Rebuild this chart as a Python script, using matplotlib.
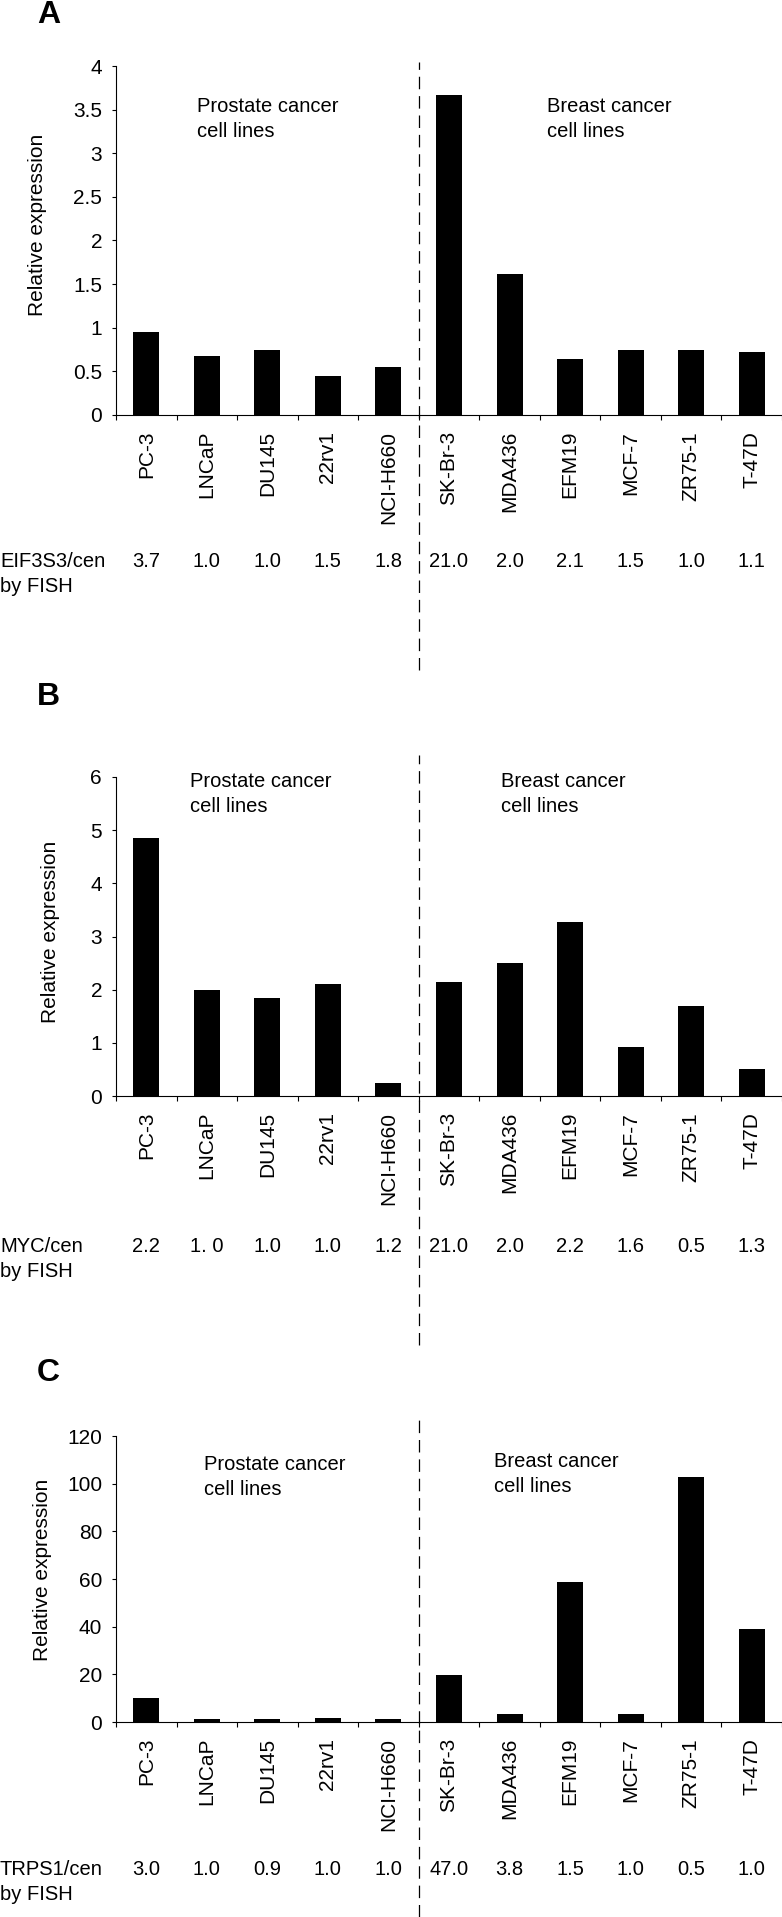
import matplotlib
matplotlib.use("Agg")
import matplotlib.pyplot as plt
import matplotlib.transforms as mtransforms
import numpy as np

# figure size in pixels
W, H = 782, 1917

plt.rcParams['font.family'] = ['Liberation Sans', 'DejaVu Sans']

cell_lines = ["PC-3", "LNCaP", "DU145", "22rv1", "NCI-H660",
              "SK-Br-3", "MDA436", "EFM19", "MCF-7", "ZR75-1", "T-47D"]

# relative expression
expr_eif3s3 = [0.95, 0.68, 0.75, 0.45, 0.55, 3.67, 1.62, 0.64, 0.74, 0.74, 0.72]
expr_myc = [4.86, 2.00, 1.84, 2.10, 0.25, 2.15, 2.51, 3.28, 0.93, 1.70, 0.51]
expr_trps1 = [10.0, 1.3, 1.2, 1.8, 1.3, 19.7, 3.3, 58.8, 3.3, 102.7, 39.1]

# gene/cen ratio by FISH (printed under each column)
fish_eif3s3 = ["3.7", "1.0", "1.0", "1.5", "1.8", "21.0", "2.0", "2.1", "1.5", "1.0", "1.1"]
fish_myc = ["2.2", "1. 0", "1.0", "1.0", "1.2", "21.0", "2.0", "2.2", "1.6", "0.5", "1.3"]
fish_trps1 = ["3.0", "1.0", "0.9", "1.0", "1.0", "47.0", "3.8", "1.5", "1.0", "0.5", "1.0"]

yticks_a = [0, 0.5, 1, 1.5, 2, 2.5, 3, 3.5, 4]
yticks_b = [0, 1, 2, 3, 4, 5, 6]
yticks_c = [0, 20, 40, 60, 80, 100, 120]


def fx(x):
    return x / W


def fy(y):
    return 1 - y / H


fig = plt.figure(figsize=(W / 100, H / 100), dpi=100)


def draw_panel(letter, letter_base, values, yticks, top_px, bot_px,
               dash_top, dash_bot, txt_left, txt_base, breast_left, breast_base,
               probe, fish, fish_base, ylab_pos):
    ax = fig.add_axes([fx(116), fy(bot_px), fx(782 - 116), (bot_px - top_px) / H])
    x = np.arange(len(values))
    ax.bar(x, values, width=0.43, color="black", edgecolor="none")
    ax.set_xlim(-0.5, len(values) - 0.5)
    ax.set_ylim(0, yticks[-1])
    ax.set_yticks(yticks)
    ax.set_yticklabels([("%g" % t) for t in yticks])
    ax.spines["top"].set_visible(False)
    ax.spines["right"].set_visible(False)
    ax.spines["left"].set_linewidth(0.8)
    ax.spines["bottom"].set_linewidth(0.8)
    ax.tick_params(axis="y", direction="out", length=3, width=0.8, pad=7, labelsize=15)
    # boundary ticks on x, labels at the bar centres
    ax.set_xticks(np.arange(-0.5, len(values)))
    ax.set_xticklabels([])
    ax.tick_params(axis="x", which="major", direction="out", length=3.6, width=0.8)
    ax.set_xticks(x, minor=True)
    ax.set_xticklabels(cell_lines, minor=True, rotation=90)
    ax.tick_params(axis="x", which="minor", length=0, pad=11.5, labelsize=15)

    # dashed separator running through the panel
    h = bot_px - top_px
    ax.axvline(4.5, ymin=(bot_px - dash_bot) / h, ymax=(bot_px - dash_top) / h,
               color="black", lw=0.9, dashes=(10, 5.5), clip_on=False)

    fig.text(fx(37), fy(letter_base), letter, fontsize=23, fontweight="bold",
             va="baseline", ha="left")
    fig.text(fx(ylab_pos[0]), fy(ylab_pos[1]), "Relative expression", rotation=90,
             fontsize=15, ha="center", va="center")
    fig.text(fx(txt_left), fy(txt_base), "Prostate cancer", fontsize=14.5, va="baseline")
    fig.text(fx(txt_left), fy(txt_base + 25), "cell lines", fontsize=14.5, va="baseline")
    fig.text(fx(breast_left), fy(breast_base), "Breast cancer", fontsize=14.5, va="baseline")
    fig.text(fx(breast_left), fy(breast_base + 25), "cell lines", fontsize=14.5, va="baseline")

    fig.text(0, fy(fish_base), probe, fontsize=14.5, va="baseline")
    fig.text(0, fy(fish_base + 25), "by FISH", fontsize=14.5, va="baseline")
    tr = mtransforms.blended_transform_factory(ax.transData, fig.transFigure)
    for i, s in enumerate(fish):
        ax.text(i, fy(fish_base), s, transform=tr, fontsize=14.5, ha="center",
                va="baseline")
    return ax


draw_panel("A", 23, expr_eif3s3, yticks_a, 66, 415, 62, 670,
           197, 112, 547, 112, "EIF3S3/cen", fish_eif3s3, 567, (38, 225))
draw_panel("B", 705, expr_myc, yticks_b, 777, 1096, 755, 1345,
           190, 787, 501, 787, "MYC/cen", fish_myc, 1252, (51, 932))
draw_panel("C", 1381, expr_trps1, yticks_c, 1436, 1722, 1418, 1917,
           204, 1470, 494, 1467, "TRPS1/cen", fish_trps1, 1875, (43, 1570))

fig.savefig("out.png", dpi=100)
